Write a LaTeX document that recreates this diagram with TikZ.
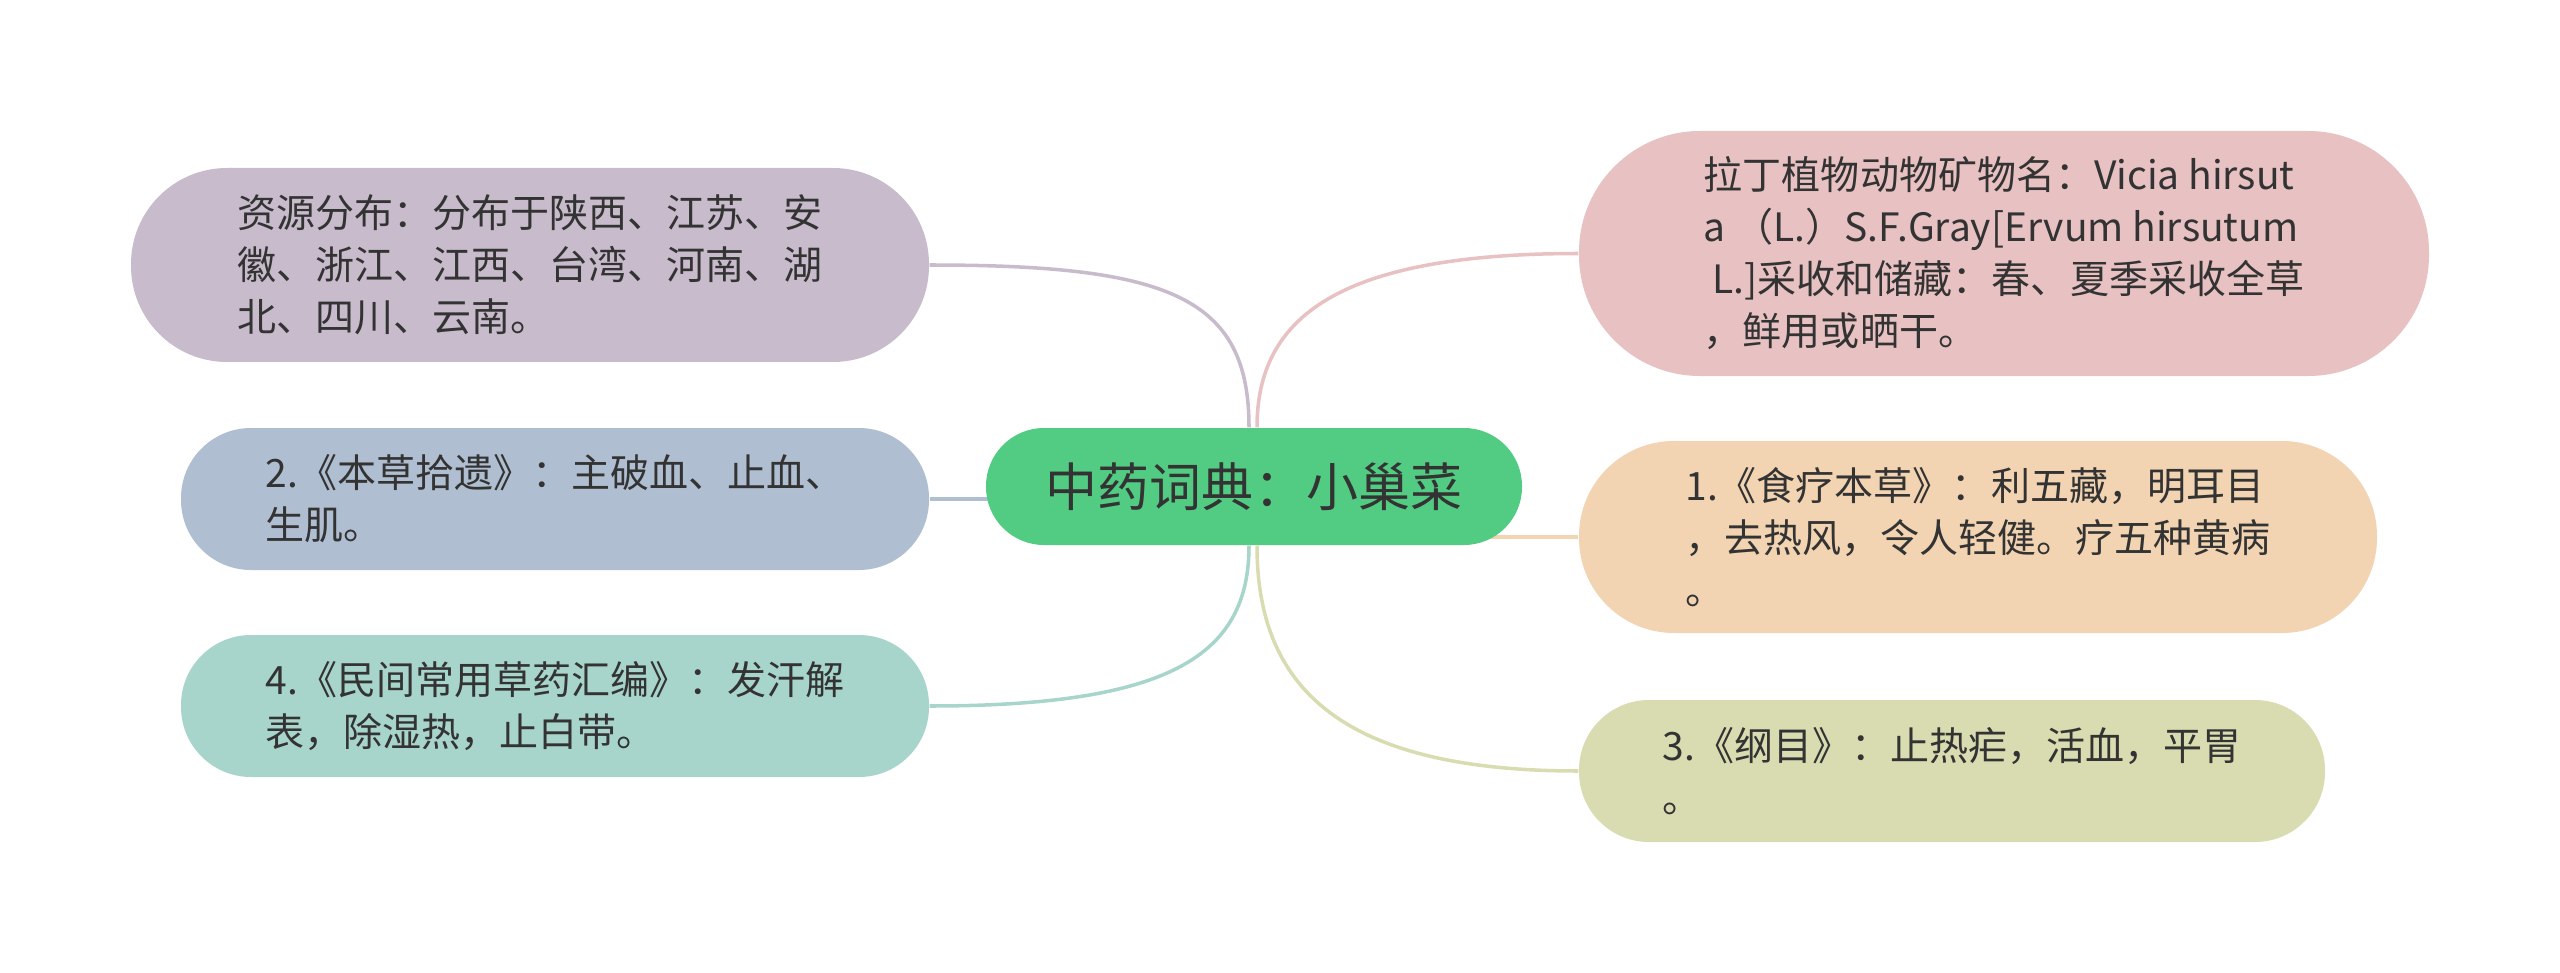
\documentclass[tikz,border=0pt]{standalone}
\usepackage{fontspec}
\setmainfont{Noto Sans CJK SC}
\usetikzlibrary{backgrounds}
\usepackage{xcolor}
\definecolor{mmtext}{HTML}{333333}
\definecolor{mmcore}{HTML}{52CC82}
\definecolor{mmpurple}{HTML}{C8BBCC}
\definecolor{mmblue}{HTML}{AFBED0}
\definecolor{mmteal}{HTML}{A8D5CB}
\definecolor{mmpink}{HTML}{E8C1C2}
\definecolor{mmorange}{HTML}{F2D4B2}
\definecolor{mmolive}{HTML}{D8DCB0}

\begin{document}
\begin{tikzpicture}[
    font=\fontsize{11.1}{14.8}\selectfont,
    leaf/.style={fill=#1, text=mmtext, align=left, inner sep=0pt},
    core/.style={fill=mmcore, text=mmtext, inner sep=0pt, minimum width=53.6mm,
      minimum height=11.7mm, rounded corners=5.8mm, font=\fontsize{14.8}{18}\selectfont},
    link/.style={line width=1pt, draw=#1}
  ]
    \useasboundingbox (0,0) rectangle (25.6,-9.73);

    \node[core] (herb) at (12.54,-4.865) {中药词典：小巢菜};

    \node[leaf=mmpurple, minimum width=79.8mm, minimum height=19.4mm, rounded corners=9.6mm] (source) at (5.30,-2.65)
      {资源分布：分布于陕西、江苏、安\\徽、浙江、江西、台湾、河南、湖\\北、四川、云南。};
    \node[leaf=mmblue, minimum width=74.8mm, minimum height=14.2mm, rounded corners=7.0mm] (bencao) at (5.55,-4.99)
      {2.《本草拾遗》：主破血、止血、\\生肌。};
    \node[leaf=mmteal, minimum width=74.8mm, minimum height=14.2mm, rounded corners=7.0mm] (minjian) at (5.55,-7.06)
      {4.《民间常用草药汇编》：发汗解\\表，除湿热，止白带。};

    \node[leaf=mmpink, minimum width=85.0mm, minimum height=24.5mm, rounded corners=12.1mm] (latin) at (20.04,-2.535)
      {拉丁植物动物矿物名：Vicia hirsut\\a （L.）S.F.Gray[Ervum hirsutum\\\ L.]采收和储藏：春、夏季采收全草\\，鲜用或晒干。};
    \node[leaf=mmorange, minimum width=79.8mm, minimum height=19.2mm, rounded corners=9.5mm] (shiliao) at (19.78,-5.37)
      {1.《食疗本草》：利五藏，明耳目\\，去热风，令人轻健。疗五种黄病\\。};
    \node[leaf=mmolive, minimum width=74.6mm, minimum height=14.2mm, rounded corners=7.0mm] (gangmu) at (19.52,-7.71)
      {3.《纲目》：止热疟，活血，平胃\\。};

    \begin{scope}[on background layer]
      \draw[link=mmpurple] (source.east) .. controls +(2.4,0) and +(0,1.3) .. ([xshift=-0.5mm]herb.north);
      \draw[link=mmblue] (bencao.east) -- (bencao.east -| herb.center);
      \draw[link=mmteal] (minjian.east) .. controls +(2.4,0) and +(0,-1.1) .. ([xshift=-0.5mm]herb.south);
      \draw[link=mmpink] (latin.west) .. controls +(-2.4,0) and +(0,1.1) .. ([xshift=0.3mm]herb.north);
      \draw[link=mmorange] (shiliao.west) -- (shiliao.west -| herb.center);
      \draw[link=mmolive] (gangmu.west) .. controls +(-2.4,0) and +(0,-1.4) .. ([xshift=0.3mm]herb.south);
    \end{scope}
  \end{tikzpicture}
\end{document}
